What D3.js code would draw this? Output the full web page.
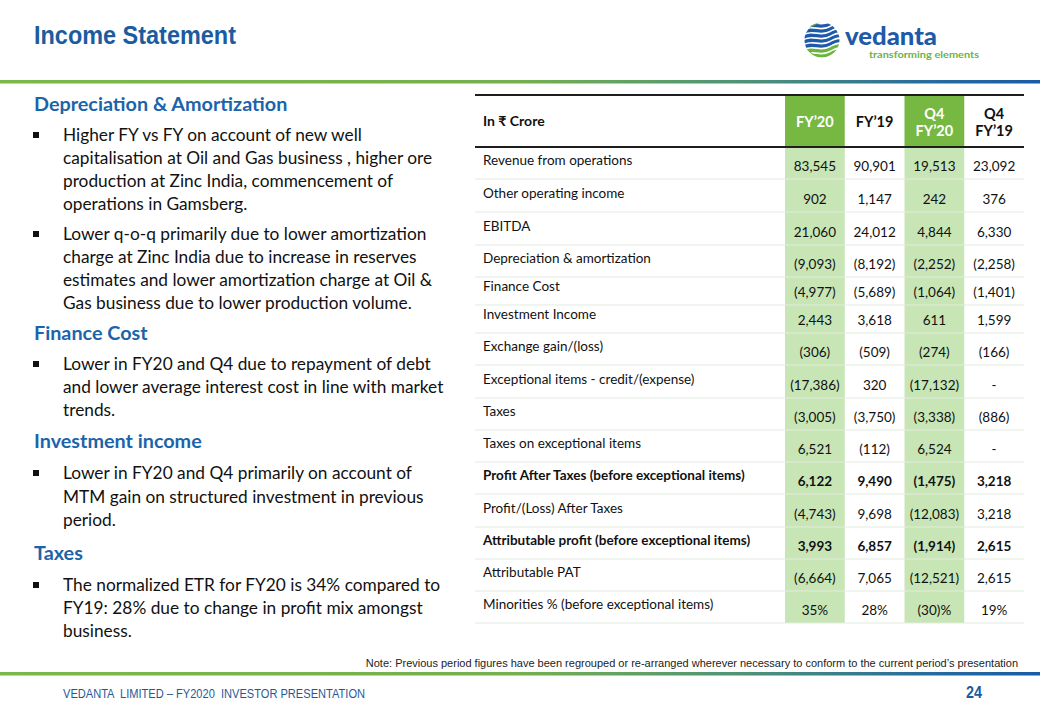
<!DOCTYPE html>
<html>
<head>
<meta charset="utf-8">
<script src="https://cdn.jsdelivr.net/npm/d3@7"></script>
<style>
  html, body { margin: 0; padding: 0; background: #ffffff; }
  svg { display: block; }
</style>
</head>
<body>
<svg id="slide" width="1040" height="720"></svg>
<script>
// ---------------- DATA ----------------
const rowLabels = [
  "Revenue from operations",
  "Other operating income",
  "EBITDA",
  "Depreciation & amortization",
  "Finance Cost",
  "Investment Income",
  "Exchange gain/(loss)",
  "Exceptional items - credit/(expense)",
  "Taxes",
  "Taxes on exceptional items",
  "Profit After Taxes (before exceptional items)",
  "Profit/(Loss) After Taxes",
  "Attributable profit (before exceptional items)",
  "Attributable PAT",
  "Minorities % (before exceptional items)"
];
const columnKeys = ["FY20", "FY19", "Q4FY20", "Q4FY19"];
const columnHeaders = [["FY\u201920"], ["FY\u201919"], ["Q4", "FY\u201920"], ["Q4", "FY\u201919"]];
const highlightedColumns = ["FY20", "Q4FY20"];
const fy20   = [83545, 902, 21060, -9093, -4977, 2443, -306, -17386, -3005, 6521, 6122, -4743, 3993, -6664, 35];
const fy19   = [90901, 1147, 24012, -8192, -5689, 3618, -509, 320, -3750, -112, 9490, 9698, 6857, 7065, 28];
const q4fy20 = [19513, 242, 4844, -2252, -1064, 611, -274, -17132, -3338, 6524, -1475, -12083, -1914, -12521, -30];
const q4fy19 = [23092, 376, 6330, -2258, -1401, 1599, -166, null, -886, null, 3218, 3218, 2615, 2615, 19];
const boldRows = [
  "Profit After Taxes (before exceptional items)",
  "Attributable profit (before exceptional items)"
];
const percentRows = ["Minorities % (before exceptional items)"];

const unitLabel = "In \u20B9 Crore";
const title = "Income Statement";
const note = "Note: Previous period figures have been regrouped or re-arranged wherever necessary to conform to the current period\u2019s presentation";
const footer = "VEDANTA  LIMITED \u2013 FY2020  INVESTOR PRESENTATION";
const pageNumber = "24";

const commentary = [
  { heading: "Depreciation & Amortization", bullets: [
    ["Higher FY vs FY on account of new well", "capitalisation at Oil and Gas business , higher ore", "production at Zinc India, commencement of", "operations in Gamsberg."],
    ["Lower q-o-q primarily due to lower amortization", "charge at Zinc India due to increase in reserves", "estimates and lower amortization charge at Oil &", "Gas business due to lower production volume."]
  ]},
  { heading: "Finance Cost", bullets: [
    ["Lower in FY20 and Q4 due to repayment of debt", "and lower average interest cost in line with market", "trends."]
  ]},
  { heading: "Investment income", bullets: [
    ["Lower in FY20 and Q4 primarily on account of", "MTM gain on structured investment in previous", "period."]
  ]},
  { heading: "Taxes", bullets: [
    ["The normalized ETR for FY20 is 34% compared to", "FY19: 28% due to change in profit mix amongst", "business."]
  ]}
];

// ---------------- LAYOUT ----------------
const W = 1040, H = 720;
const BLUE = "#1b5c9e", HEAD_GREEN = "#77b843", LIGHT_GREEN = "#c8e5b5";
const bodyFont = "Lato, 'Noto Sans', 'DejaVu Sans', sans-serif";
const narrowFont = "'Liberation Sans Narrow', 'Liberation Sans', Arial, sans-serif";
const tX0 = 475, tX1 = 1024, labelEnd = 785;
const headTop = 95, headBottom = 147;
const rowHeights = [32, 33, 33, 32, 28, 28, 32, 33, 32, 32, 32, 33, 32, 32, 32];

const svg = d3.select("#slide");
const defs = svg.append("defs");
svg.append("rect").attr("width", W).attr("height", H).attr("fill", "#fff");

// gradient rule
const grad = defs.append("linearGradient").attr("id", "rule").attr("x1", "0%").attr("x2", "100%");
[["0%", "#79b84a"], ["50%", "#74b04e"], ["72%", "#4c9278"], ["88%", "#2a6d9c"], ["100%", "#1a5aa6"]]
  .forEach(([o, c]) => grad.append("stop").attr("offset", o).attr("stop-color", c));
svg.append("rect").attr("x", 0).attr("y", 80).attr("width", W).attr("height", 3.5).attr("fill", "url(#rule)");
svg.append("rect").attr("x", 0).attr("y", 672).attr("width", W).attr("height", 3.5).attr("fill", "url(#rule)");

// title
svg.append("text").attr("x", 34).attr("y", 44).text(title)
  .attr("font-family", narrowFont).attr("font-weight", "bold").attr("font-size", 26).attr("fill", BLUE)
  .attr("textLength", 202).attr("lengthAdjust", "spacingAndGlyphs");

// logo
const logo = svg.append("g");
defs.append("clipPath").attr("id", "globe").append("circle").attr("cx", 822).attr("cy", 40).attr("r", 17.5);
const globe = logo.append("g").attr("clip-path", "url(#globe)");
const stripeY = [24, 29, 34, 39, 44, 49, 54];
stripeY.forEach((y, i) => {
  const c = i < 5 ? "#1e5aa8" : "#6cb33f";
  globe.append("path")
    .attr("d", `M802,${y + 4} C812,${y - 3} 820,${y + 6} 830,${y} S840,${y - 2} 844,${y - 3}`)
    .attr("fill", "none").attr("stroke", c).attr("stroke-width", 3.2);
});
globe.append("path").attr("d", "M803,26 C808,22 815,20 822,21 C816,25 810,28 803,30 Z").attr("fill", "#6cb33f");
globe.append("path").attr("d", "M806,48 C812,52 814,56 818,60 C810,58 806,54 804,50 Z").attr("fill", "#6cb33f");
logo.append("text").attr("x", 845).attr("y", 45).text("vedanta")
  .attr("font-family", bodyFont).attr("font-weight", "900").attr("font-size", 25)
  .attr("fill", "#1e5aa8").attr("textLength", 92).attr("lengthAdjust", "spacingAndGlyphs");
logo.append("text").attr("x", 869).attr("y", 58).text("transforming elements")
  .attr("font-family", bodyFont).attr("font-weight", "bold").attr("font-size", 10)
  .attr("fill", "#6cb33f").attr("textLength", 110).attr("lengthAdjust", "spacingAndGlyphs");

// ---------------- TABLE ----------------
const x = d3.scaleBand().domain(columnKeys).range([labelEnd, tX1]);
const seriesByKey = { FY20: fy20, FY19: fy19, Q4FY20: q4fy20, Q4FY19: q4fy19 };
const bottoms = Array.from(d3.cumsum(rowHeights), v => headBottom + v);
const rowIndex = d3.range(rowLabels.length);

const fmtNum = d3.format(",");
function fmt(v, label) {
  if (v == null) return "-";
  if (percentRows.includes(label)) return v < 0 ? `(${Math.abs(v)})%` : `${v}%`;
  return v < 0 ? `(${fmtNum(Math.abs(v))})` : fmtNum(v);
}

const table = svg.append("g");
table.selectAll("rect.hcol").data(highlightedColumns).join("rect")
  .attr("x", d => x(d)).attr("y", headTop).attr("width", x.bandwidth()).attr("height", headBottom - headTop)
  .attr("fill", HEAD_GREEN);
table.selectAll("rect.bcol").data(highlightedColumns).join("rect")
  .attr("x", d => x(d)).attr("y", headBottom).attr("width", x.bandwidth()).attr("height", bottoms[bottoms.length - 1] - headBottom)
  .attr("fill", LIGHT_GREEN);
table.selectAll("line.sep").data(bottoms).join("line")
  .attr("x1", tX0).attr("x2", tX1).attr("y1", d => d).attr("y2", d => d)
  .attr("stroke", "#e4ebdf").attr("stroke-width", 1.2);
[headTop, headBottom].forEach(y => table.append("line")
  .attr("x1", tX0).attr("x2", tX1).attr("y1", y).attr("y2", y)
  .attr("stroke", "#1e1e1e").attr("stroke-width", 2));

table.append("text").attr("x", 483).attr("y", 126).text(unitLabel)
  .attr("font-family", bodyFont).attr("font-weight", "bold").attr("font-size", 14).attr("fill", "#111");
columnKeys.forEach((k, i) => {
  const lines = columnHeaders[i];
  const col = highlightedColumns.includes(k) ? "#ffffff" : "#111";
  const ys = lines.length === 1 ? [127] : [119, 136];
  lines.forEach((l, j) => table.append("text")
    .attr("x", x(k) + x.bandwidth() / 2).attr("y", ys[j]).attr("text-anchor", "middle").text(l)
    .attr("font-family", bodyFont).attr("font-weight", "bold").attr("font-size", 14.5).attr("fill", col));
});

table.selectAll("text.rl").data(rowIndex).join("text")
  .attr("x", 483).attr("y", i => bottoms[i] - 14.5).text(i => rowLabels[i])
  .attr("font-family", bodyFont).attr("font-size", 13.5)
  .attr("font-weight", i => boldRows.includes(rowLabels[i]) ? "bold" : "normal").attr("fill", "#111");

columnKeys.forEach(k => {
  table.selectAll(null).data(rowIndex).join("text")
    .attr("x", x(k) + x.bandwidth() / 2).attr("y", i => bottoms[i] - 8)
    .attr("text-anchor", "middle").text(i => fmt(seriesByKey[k][i], rowLabels[i]))
    .attr("font-family", bodyFont).attr("font-size", 13.5)
    .attr("font-weight", i => boldRows.includes(rowLabels[i]) ? "bold" : "normal").attr("fill", "#111");
});

// ---------------- COMMENTARY ----------------
const cm = svg.append("g");
const lineCenters = [
  [104, [[135, 158, 181, 204], [234, 257, 280, 303]]],
  [333, [[364, 387, 410]]],
  [441, [[473, 497, 520]]],
  [553, [[585, 608, 631]]]
];
commentary.forEach((sec, s) => {
  const [hy, bys] = lineCenters[s];
  cm.append("text").attr("x", 34).attr("y", hy + 7).text(sec.heading)
    .attr("font-family", bodyFont).attr("font-weight", "bold").attr("font-size", 19.8).attr("fill", "#1c64a9");
  sec.bullets.forEach((lines, b) => {
    cm.append("rect").attr("x", 33).attr("y", bys[b][0] - 3).attr("width", 6).attr("height", 6).attr("fill", "#111");
    lines.forEach((l, j) => cm.append("text").attr("x", 63).attr("y", bys[b][j] + 6).text(l)
      .attr("font-family", bodyFont).attr("font-size", 17.3).attr("fill", "#111"));
  });
});

// ---------------- FOOTER ----------------
svg.append("text").attr("x", 1018).attr("y", 667).attr("text-anchor", "end").text(note)
  .attr("font-family", narrowFont).attr("font-size", 11).attr("fill", "#222");
svg.append("text").attr("x", 63).attr("y", 698).text(footer)
  .style("white-space", "pre")
  .attr("font-family", narrowFont).attr("font-size", 13).attr("fill", "#1f5a96")
  .attr("textLength", 302).attr("lengthAdjust", "spacingAndGlyphs");
svg.append("text").attr("x", 982).attr("y", 698).attr("text-anchor", "end").text(pageNumber)
  .attr("font-family", narrowFont).attr("font-weight", "bold").attr("font-size", 17).attr("fill", BLUE)
  .attr("textLength", 16).attr("lengthAdjust", "spacingAndGlyphs");
</script>
</body>
</html>
